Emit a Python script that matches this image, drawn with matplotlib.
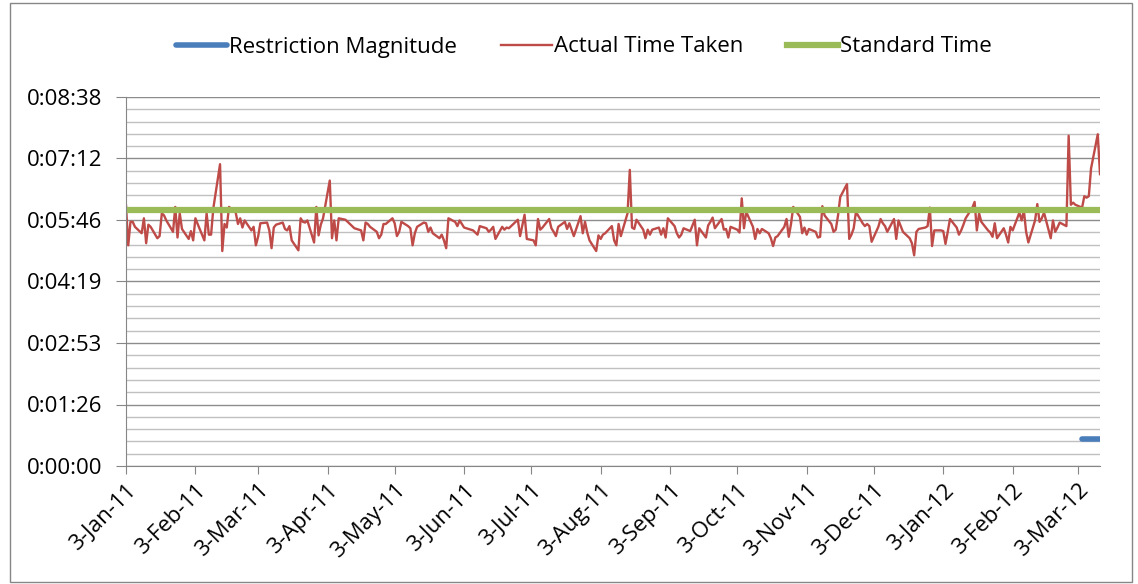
import matplotlib
matplotlib.use('Agg')
import matplotlib.pyplot as plt
from matplotlib.patches import Rectangle
from matplotlib.ticker import MultipleLocator, FuncFormatter
import numpy as np
import pandas as pd

plt.rcParams['font.family'] = ['Open Sans', 'DejaVu Sans']

# actual time taken per working day, in seconds (3-Jan-11 .. 14-Mar-12)
actual_time = [
    366, 310, 343, 343, 336, 327, 348, 313, 339, 336, 320, 323, 355, 352, 345, 329, 364, 321, 355, 333,
    319, 330, 317, 348, 340, 317, 355, 325, 325, 362, 424, 302, 340, 335, 364, 356, 340, 348, 335, 345,
    331, 336, 310, 322, 341, 342, 331, 306, 335, 339, 342, 333, 331, 337, 317, 303, 348, 343, 342, 345,
    314, 364, 324, 339, 348, 401, 320, 345, 317, 348, 346, 343, 340, 337, 334, 331, 317, 342,
    340, 336, 329, 320, 325, 340, 340, 348, 341, 323, 329, 343, 337, 334, 310, 327, 336, 342, 341, 329,
    335, 327, 320, 325, 317, 306, 348, 343, 337, 345, 340, 335, 332, 331, 328, 325, 337, 334, 329, 332,
    336, 319, 336, 332, 335, 334, 337, 346, 323, 338, 353, 319, 317, 310, 347, 332, 335, 347, 334, 329,
    323, 336, 343, 333, 341, 332, 323, 351, 327, 343, 328, 317, 302, 324, 319, 325, 327, 337, 317,
    310, 340, 323, 355, 416, 335, 333, 346, 332, 320, 332, 325, 332, 335, 325, 334, 321, 348, 337, 327,
    321, 325, 334, 330, 338, 346, 310, 334, 321, 338, 343, 349, 334, 347, 332, 333, 321, 336, 332, 328,
    376, 334, 357, 336, 319, 333, 327, 333, 327, 320, 309, 321, 323, 336, 347, 322, 340, 364, 350, 327,
    335, 325, 333, 329, 321, 322, 365, 352, 340, 329, 332, 352, 378, 396, 319, 325, 334, 357,
    341, 337, 340, 337, 315, 336, 347, 341, 337, 329, 347, 319, 345, 337, 329, 320, 313, 296, 329, 333,
    335, 337, 363, 309, 331, 331, 330, 312, 329, 347, 335, 325, 331, 339, 348, 363, 371, 331, 355, 343,
    331, 328, 322, 341, 320, 334, 325, 314, 336, 331, 356, 345, 359, 329, 314, 345, 368, 343,
    348, 356, 320, 345, 329, 335, 342, 337, 464, 367, 370, 367, 363, 379, 377, 379, 418, 466, 410,
]
standard_time = 360  # 0:06:00
restriction = [38, 38, 38, 38, 38, 38, 38, 38]
restriction_start = '2012-03-05'

dates = pd.bdate_range('2011-01-03', periods=len(actual_time))
r_dates = pd.bdate_range(restriction_start, periods=len(restriction))
month_ticks = pd.date_range('2011-01-01', '2012-03-01', freq='MS') + pd.Timedelta(days=2)


def hms(v, pos):
    s = int(round(v))
    return f"{s // 3600}:{s % 3600 // 60:02d}:{s % 60:02d}"


W, H = 1138, 584
fig = plt.figure(figsize=(W / 100, H / 100), dpi=100)
ax = fig.add_axes([126 / W, 1 - 466 / H, (1100 - 126) / W, (466 - 97) / H])

l1, = ax.plot(r_dates, restriction, color='#4A7EBB', lw=4, solid_capstyle='round')
l2, = ax.plot(dates, actual_time, color='#BE4B48', lw=1.7)
l3, = ax.plot(dates, np.full(len(dates), standard_time), color='#9BBB59', lw=4.5)

ax.set_xlim(dates[0], dates[-1])
ax.set_ylim(0, 518.4)
ax.yaxis.set_major_locator(MultipleLocator(86.4))
ax.yaxis.set_minor_locator(MultipleLocator(17.28))
ax.yaxis.set_major_formatter(FuncFormatter(hms))
ax.set_xticks(month_ticks)
ax.set_xticklabels([f"{d.day}-{d.strftime('%b-%y')}" for d in month_ticks],
                   rotation=45, ha='right', rotation_mode='anchor')

ax.grid(which='major', axis='y', color='#8C8C8C', lw=1)
ax.grid(which='minor', axis='y', color='#C0C0C0', lw=1)
ax.set_axisbelow(True)
for side in ['top', 'right']:
    ax.spines[side].set_visible(False)
for side in ['left', 'bottom']:
    ax.spines[side].set_color('#868686')
ax.tick_params(axis='y', which='major', length=7, color='#868686', labelsize=16, pad=10)
ax.tick_params(axis='x', which='major', length=6, color='#868686', labelsize=16, pad=4)
ax.tick_params(which='minor', length=0)

fig.legend([l1, l2, l3], ['Restriction Magnitude', 'Actual Time Taken', 'Standard Time'],
           loc='center', bbox_to_anchor=(0.513, 1 - 47 / H), ncol=3, frameon=False,
           fontsize=16, handlelength=2.3, handletextpad=0.1, columnspacing=1.95)

fig.add_artist(Rectangle((10 / W, 2 / H), (1132 - 10) / W, (581 - 2) / H,
                         transform=fig.transFigure, fill=False, edgecolor='#868686', lw=1))

fig.savefig('out.png', dpi=100)
